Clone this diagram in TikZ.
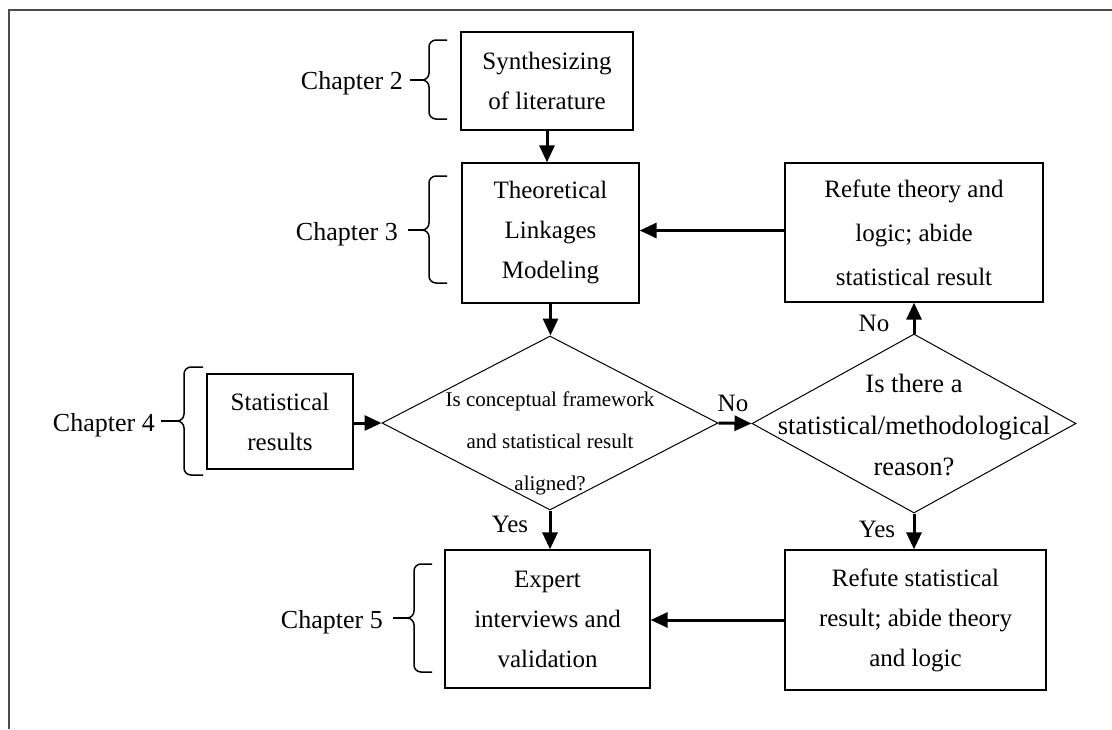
\documentclass[tikz,border=0pt]{standalone}
\usepackage{fontspec}
\setmainfont{Liberation Serif}
\usetikzlibrary{shapes.geometric,arrows.meta}

% curly brace: spine x, top y, tip y, bottom y, end x
\newcommand\chapbrace[5]{%
  \draw[bracestyle] (#5,#2) -- ({#1+7},#2) to[out=180,in=90] (#1,{#2+7})
    -- (#1,{#3-7}) to[out=-90,in=0] ({#1-7},#3)
    to[out=0,in=90] (#1,{#3+7}) -- (#1,{#4-7})
    to[out=-90,in=180] ({#1+7},#4) -- (#5,#4);}

\begin{document}
\begin{tikzpicture}[x=1pt,y=-1pt,
  box/.style={draw, line width=1.3pt, inner sep=0pt, align=center,
    font=\fontsize{25}{40}\selectfont},
  decision/.style={draw, shape=diamond, line width=1pt, inner sep=0pt},
  qtext/.style={align=center, inner sep=0pt},
  arr/.style={line width=3pt, -{Triangle[length=17pt,width=15pt]}},
  chap/.style={font=\fontsize{26}{30}\selectfont, anchor=base east, inner sep=0pt},
  bracestyle/.style={line width=1.5pt},
  lbl/.style={font=\fontsize{25}{30}\selectfont, inner sep=0pt}]

\useasboundingbox (0,0) rectangle (1112,729);

% page frame
\draw[line width=2pt, color=gray!60!black] (9,729) -- (9,10) -- (1112,10);

% process boxes
\node[box, minimum width=172pt, minimum height=98pt] (b1) at (547,81)
  {Synthesizing\\of literature};
\node[box, minimum width=177pt, minimum height=140pt] (b2) at (550.5,233)
  {Theoretical\\Linkages\\Modeling};
\node[box, minimum width=258pt, minimum height=139pt,
      font=\fontsize{25}{44}\selectfont] (b3) at (914,232.5)
  {Refute theory and\\logic; abide\\statistical result};
\node[box, minimum width=146pt, minimum height=95pt] (st) at (280,421.5)
  {Statistical\\results};
\node[box, minimum width=205pt, minimum height=138pt] (ex) at (547.5,619)
  {Expert\\interviews and\\validation};
\node[box, minimum width=261pt, minimum height=140pt] (b4) at (915.5,620)
  {Refute statistical\\result; abide theory\\and logic};

% decisions
\node[decision, minimum width=336pt, minimum height=174pt] (d1) at (550,423) {};
\node[qtext, font=\fontsize{21}{42}\selectfont] (q1) at (550,443)
  {Is conceptual framework\\and statistical result\\aligned?};
\node[decision, minimum width=324pt, minimum height=179pt] (d2) at (914,423.5) {};
\node[qtext, font=\fontsize{26.5}{41.5}\selectfont] (q2) at (914,425)
  {Is there a\\statistical/methodological\\reason?};

% flow
\draw[arr] (b1.south) -- (b1.south |- b2.north);
\draw[arr] (b2.south) -- (b2.south |- d1.north);
\draw[arr] (d1.west -| st.east) -- (d1.west);
\draw[arr] (d1.east) -- (d2.west);
\draw[arr] (d2.north) -- (d2.north |- b3.south);
\draw[arr] (d2.south) -- (d2.south |- b4.north);
\draw[arr] (d1.south) -- (d1.south |- ex.north);
\draw[arr] (b3.west) ++(0,-2) coordinate (b3in) -- (b3in -| b2.east);
\draw[arr] (b4.west) -- (b4.west -| ex.east);

% branch labels
\node[lbl] (no1) at (733,403) {No};
\node[lbl] (no2) at (874,323) {No};
\node[lbl] (yes1) at (877,529) {Yes};
\node[lbl] (yes2) at (510,524) {Yes};

% chapter brackets
\node[chap] (ch2) at (403,89.5) {Chapter 2};
\chapbrace{429}{40}{80}{119}{447}
\coordinate (c2s) at (410,80); \coordinate (c2t) at (422,80);
\draw[bracestyle] (c2s) -- (c2t);

\node[chap] (ch3) at (398,240) {Chapter 3};
\chapbrace{429}{176}{230}{283}{447}
\coordinate (c3s) at (408,230); \coordinate (c3t) at (422,230);
\draw[bracestyle] (c3s) -- (c3t);

\node[chap] (ch4) at (155,431) {Chapter 4};
\chapbrace{184}{367}{421}{475}{203}
\coordinate (c4s) at (161,421); \coordinate (c4t) at (177,421);
\draw[bracestyle] (c4s) -- (c4t);

\node[chap] (ch5) at (383,628) {Chapter 5};
\chapbrace{414}{564}{618}{672}{432}
\coordinate (c5s) at (393,618); \coordinate (c5t) at (407,618);
\draw[bracestyle] (c5s) -- (c5t);

\end{tikzpicture}
\end{document}
